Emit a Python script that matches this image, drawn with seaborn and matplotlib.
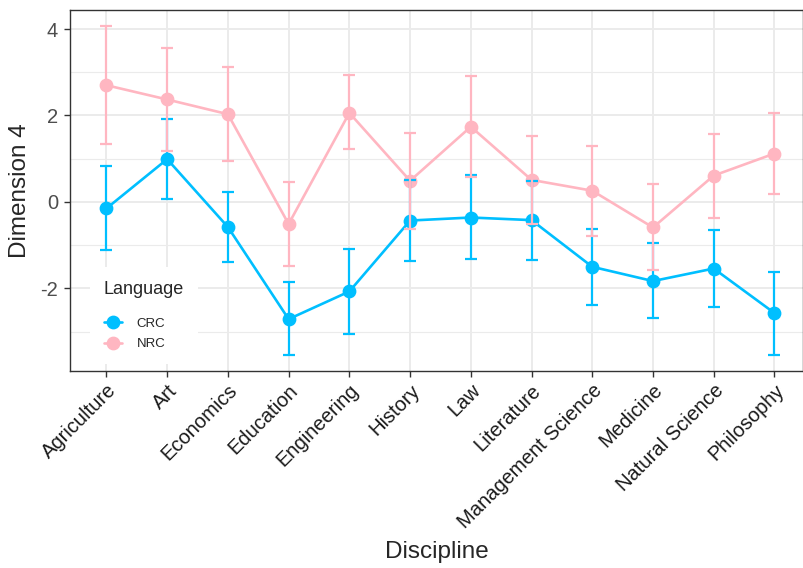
import numpy as np
import pandas as pd
import matplotlib
matplotlib.use("Agg")
import matplotlib.pyplot as plt
import seaborn as sns
from matplotlib.ticker import FixedLocator

# Disciplines on the x axis
disciplines = ["Agriculture", "Art", "Economics", "Education", "Engineering",
               "History", "Law", "Literature", "Management Science",
               "Medicine", "Natural Science", "Philosophy"]
languages = ["CRC", "NRC"]

# Mean score on dimension 4 with lower / upper interval bounds
crc_mean = [-0.15, 0.99, -0.58, -2.71, -2.07, -0.43, -0.36, -0.42, -1.50, -1.83, -1.54, -2.57]
crc_low = [-1.10, 0.07, -1.39, -3.54, -3.05, -1.36, -1.33, -1.34, -2.38, -2.69, -2.44, -3.54]
crc_high = [0.83, 1.92, 0.24, -1.84, -1.09, 0.51, 0.62, 0.49, -0.62, -0.96, -0.64, -1.61]

nrc_mean = [2.70, 2.37, 2.03, -0.51, 2.06, 0.49, 1.74, 0.51, 0.26, -0.59, 0.61, 1.12]
nrc_low = [1.33, 1.19, 0.94, -1.48, 1.22, -0.62, 0.58, -0.52, -0.79, -1.57, -0.37, 0.18]
nrc_high = [4.08, 3.55, 3.13, 0.47, 2.94, 1.60, 2.91, 1.53, 1.30, 0.41, 1.57, 2.06]

y_ticks = [-2, 0, 2, 4]
y_minor = [-3, -1, 1, 3]

palette = {"CRC": "#00BFFF", "NRC": "#FFB6C1"}

df = pd.DataFrame({
    "Discipline": disciplines * 2,
    "Language": ["CRC"] * len(disciplines) + ["NRC"] * len(disciplines),
    "Score": crc_mean + nrc_mean,
    "Low": crc_low + nrc_low,
    "High": crc_high + nrc_high,
})

sns.set_theme(style="white")
plt.rcParams["font.family"] = ["Liberation Sans", "DejaVu Sans"]

fig = plt.figure(figsize=(8.04, 5.68), dpi=100)
W, H = 804, 568
left, right, top, bottom = 70, 803, 10, 371
ax = fig.add_axes([left / W, 1 - bottom / H, (right - left) / W, (bottom - top) / H])

sns.pointplot(data=df, x="Discipline", y="Score", hue="Language",
              order=disciplines, hue_order=languages, palette=palette,
              errorbar=None, markers="o", markersize=8.5, linewidth=1.9,
              ax=ax)

# Interval bars, drawn on top of points and lines
pos = {d: i for i, d in enumerate(disciplines)}
for lang in languages:
    sub = df[df["Language"] == lang]
    x = sub["Discipline"].map(pos).to_numpy()
    m = sub["Score"].to_numpy()
    ax.errorbar(x, m, yerr=[m - sub["Low"].to_numpy(), sub["High"].to_numpy() - m],
                fmt="none", ecolor=palette[lang], elinewidth=1.6,
                capsize=4.3, capthick=1.6, zorder=5)

ax.set_xlim(-0.6, 11.47)
ax.set_ylim(-3.91, 4.44)
ax.yaxis.set_major_locator(FixedLocator(y_ticks))
ax.yaxis.set_minor_locator(FixedLocator(y_minor))
ax.set_yticklabels([str(t) for t in y_ticks])

# Grid and frame
ax.set_axisbelow(True)
ax.grid(which="major", color="#EBEBEB", linewidth=1.4)
ax.grid(which="minor", axis="y", color="#EBEBEB", linewidth=0.8)
for s in ax.spines.values():
    s.set_color("#333333")
    s.set_linewidth(1.0)

ax.tick_params(axis="both", which="major", length=4.5, width=1.0, color="#333333",
               pad=3, labelsize=14.5, bottom=True, left=True)
ax.tick_params(axis="y", which="minor", length=0)
ax.tick_params(axis="y", labelcolor="#4D4D4D", pad=4)
ax.tick_params(axis="x", labelcolor="#1A1A1A", pad=2.5)
for lab in ax.get_xticklabels():
    lab.set_rotation(45)
    lab.set_ha("right")
    lab.set_va("top")
    lab.set_rotation_mode("anchor")

ax.set_xlabel("Discipline", fontsize=17.5, va="center")
ax.xaxis.set_label_coords(0.5, (bottom - 552) / (bottom - top))
ax.set_ylabel("Dimension 4", fontsize=17.5, va="center")
ax.yaxis.set_label_coords((20 - left) / (right - left), 0.5)

leg = ax.legend(title="Language", loc="upper left",
                bbox_to_anchor=((90 - left) / (right - left), (bottom - 267) / (bottom - top)),
                borderaxespad=0, frameon=True, fontsize=9.5, title_fontsize=13,
                alignment="left", handlelength=1.36, markerscale=1.0,
                labelspacing=0.65, borderpad=1.05, handletextpad=1.14)
leg._legend_box.sep = 14
leg.get_frame().set_facecolor("white")
leg.get_frame().set_edgecolor("none")
leg.get_frame().set_alpha(1)
leg.set_zorder(10)

fig.savefig("out.png", dpi=100)
